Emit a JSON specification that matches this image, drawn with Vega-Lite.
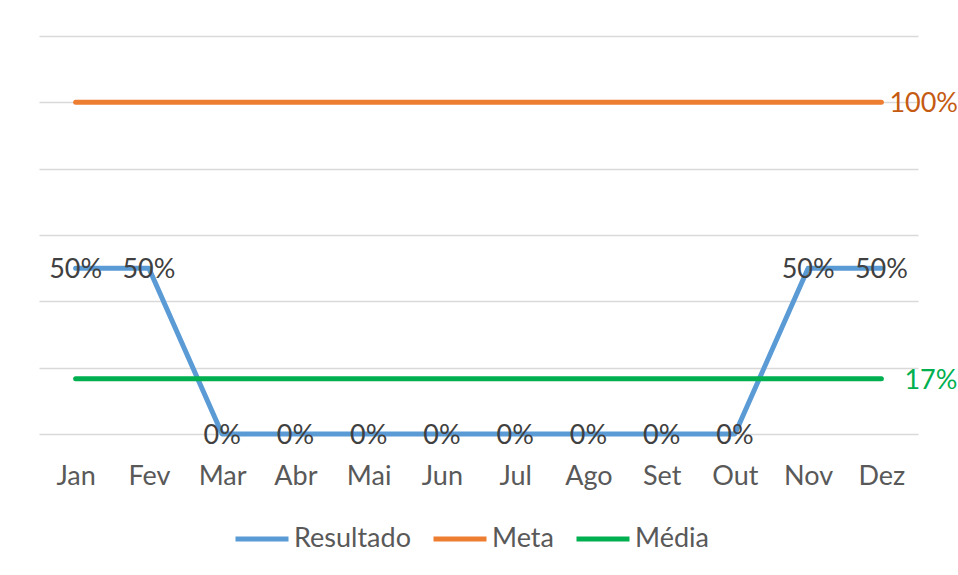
{
  "$schema": "https://vega.github.io/schema/vega-lite/v6.json",
  "width": 879,
  "height": 398,
  "autosize": {"type": "none"},
  "padding": {"left": 39, "top": 36, "right": 40, "bottom": 141},
  "background": "white",
  "config": {"view": {"stroke": null}, "font": "Lato"},
  "data": {
    "values": [
      {"mes": "Jan", "serie": "Resultado", "valor": 0.5},
      {"mes": "Fev", "serie": "Resultado", "valor": 0.5},
      {"mes": "Mar", "serie": "Resultado", "valor": 0},
      {"mes": "Abr", "serie": "Resultado", "valor": 0},
      {"mes": "Mai", "serie": "Resultado", "valor": 0},
      {"mes": "Jun", "serie": "Resultado", "valor": 0},
      {"mes": "Jul", "serie": "Resultado", "valor": 0},
      {"mes": "Ago", "serie": "Resultado", "valor": 0},
      {"mes": "Set", "serie": "Resultado", "valor": 0},
      {"mes": "Out", "serie": "Resultado", "valor": 0},
      {"mes": "Nov", "serie": "Resultado", "valor": 0.5},
      {"mes": "Dez", "serie": "Resultado", "valor": 0.5},
      {"mes": "Jan", "serie": "Meta", "valor": 1},
      {"mes": "Fev", "serie": "Meta", "valor": 1},
      {"mes": "Mar", "serie": "Meta", "valor": 1},
      {"mes": "Abr", "serie": "Meta", "valor": 1},
      {"mes": "Mai", "serie": "Meta", "valor": 1},
      {"mes": "Jun", "serie": "Meta", "valor": 1},
      {"mes": "Jul", "serie": "Meta", "valor": 1},
      {"mes": "Ago", "serie": "Meta", "valor": 1},
      {"mes": "Set", "serie": "Meta", "valor": 1},
      {"mes": "Out", "serie": "Meta", "valor": 1},
      {"mes": "Nov", "serie": "Meta", "valor": 1},
      {"mes": "Dez", "serie": "Meta", "valor": 1},
      {"mes": "Jan", "serie": "Média", "valor": 0.1667},
      {"mes": "Fev", "serie": "Média", "valor": 0.1667},
      {"mes": "Mar", "serie": "Média", "valor": 0.1667},
      {"mes": "Abr", "serie": "Média", "valor": 0.1667},
      {"mes": "Mai", "serie": "Média", "valor": 0.1667},
      {"mes": "Jun", "serie": "Média", "valor": 0.1667},
      {"mes": "Jul", "serie": "Média", "valor": 0.1667},
      {"mes": "Ago", "serie": "Média", "valor": 0.1667},
      {"mes": "Set", "serie": "Média", "valor": 0.1667},
      {"mes": "Out", "serie": "Média", "valor": 0.1667},
      {"mes": "Nov", "serie": "Média", "valor": 0.1667},
      {"mes": "Dez", "serie": "Média", "valor": 0.1667}
    ]
  },
  "encoding": {
    "x": {
      "field": "mes",
      "type": "ordinal",
      "sort": ["Jan", "Fev", "Mar", "Abr", "Mai", "Jun", "Jul", "Ago", "Set", "Out", "Nov", "Dez"],
      "scale": {"type": "point", "padding": 0.5},
      "axis": {
        "title": null,
        "labelAngle": 0,
        "labelFontSize": 27,
        "labelColor": "#595959",
        "labelPadding": 29,
        "ticks": false,
        "domain": false,
        "grid": false
      }
    },
    "y": {
      "field": "valor",
      "type": "quantitative",
      "scale": {"domain": [0, 1.2], "nice": false},
      "axis": {
        "title": null,
        "labels": false,
        "ticks": false,
        "domain": false,
        "values": [0, 0.2, 0.4, 0.6, 0.8, 1, 1.2],
        "gridColor": "#D9D9D9",
        "gridWidth": 1.5
      }
    }
  },
  "layer": [
    {
      "mark": {"type": "line", "strokeWidth": 5, "strokeCap": "round", "strokeJoin": "round"},
      "encoding": {
        "color": {
          "field": "serie",
          "type": "nominal",
          "scale": {"domain": ["Resultado", "Meta", "Média"], "range": ["#5B9BD5", "#ED7D31", "#00B050"]},
          "legend": {
            "title": null,
            "orient": "none",
            "direction": "horizontal",
            "legendX": 194,
            "legendY": 474,
            "symbolType": "stroke",
            "symbolSize": 2809,
            "symbolStrokeWidth": 5,
            "labelFontSize": 27,
            "labelColor": "#595959",
            "labelOffset": 3,
            "columnPadding": 12
          }
        }
      }
    },
    {
      "transform": [{"filter": "datum.serie === 'Resultado'"}],
      "mark": {"type": "text", "fontSize": 27, "color": "#404040", "baseline": "middle", "dy": 2},
      "encoding": {"text": {"field": "valor", "type": "quantitative", "format": ".0%"}}
    },
    {
      "transform": [{"filter": "datum.serie === 'Meta' && datum.mes === 'Dez'"}],
      "mark": {"type": "text", "fontSize": 27, "color": "#C55A11", "align": "left", "baseline": "middle", "dx": 8, "dy": 2},
      "encoding": {"text": {"field": "valor", "type": "quantitative", "format": ".0%"}}
    },
    {
      "transform": [{"filter": "datum.serie === 'Média' && datum.mes === 'Dez'"}],
      "mark": {"type": "text", "fontSize": 27, "color": "#00B050", "align": "left", "baseline": "middle", "dx": 23, "dy": 2},
      "encoding": {"text": {"field": "valor", "type": "quantitative", "format": ".0%"}}
    }
  ]
}
